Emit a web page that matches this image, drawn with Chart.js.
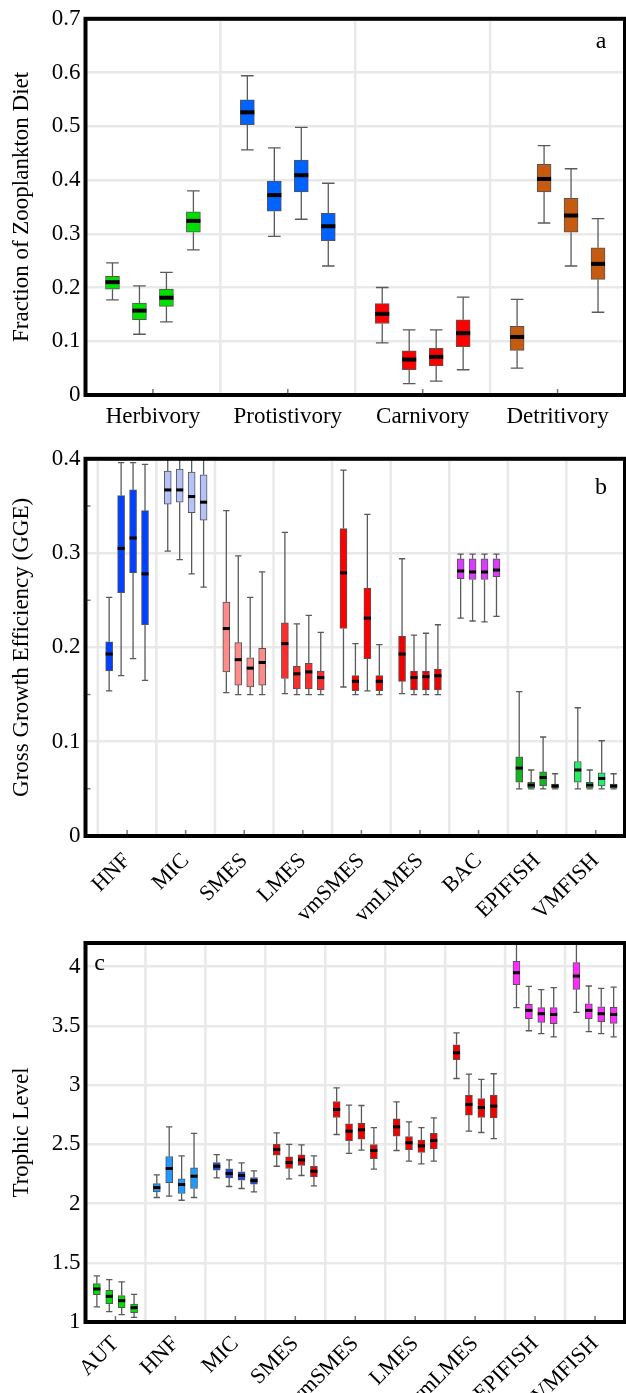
<!DOCTYPE html>
<html>
<head>
<meta charset="utf-8">
<script src="https://cdn.jsdelivr.net/npm/chart.js@4.4.0/dist/chart.umd.min.js"></script>
<style>
  body { margin: 0; background: #fff; }
  .panel { position: absolute; left: 0; }
</style>
</head>
<body>
<div class="panel" style="top:0px"><canvas id="chartA" width="626" height="440"></canvas></div>
<div class="panel" style="top:440px"><canvas id="chartB" width="626" height="480"></canvas></div>
<div class="panel" style="top:920px"><canvas id="chartC" width="626" height="473"></canvas></div>
<script>
// ---- panel a : fraction of zooplankton diet ([category][run]) ----
var dietCats = ['Herbivory', 'Protistivory', 'Carnivory', 'Detritivory'];
var dietLow  = [[0.177,0.113,0.136,0.270],[0.456,0.295,0.327,0.240],[0.097,0.021,0.026,0.047],[0.050,0.320,0.240,0.154]];
var dietQ1   = [[0.197,0.140,0.165,0.303],[0.503,0.342,0.378,0.287],[0.133,0.047,0.054,0.090],[0.083,0.378,0.303,0.215]];
var dietMed  = [[0.210,0.157,0.181,0.324],[0.526,0.372,0.409,0.314],[0.151,0.066,0.071,0.115],[0.108,0.402,0.334,0.244]];
var dietQ3   = [[0.221,0.171,0.197,0.341],[0.549,0.398,0.437,0.338],[0.170,0.082,0.087,0.140],[0.128,0.429,0.366,0.274]];
var dietHigh = [[0.246,0.203,0.228,0.380],[0.594,0.460,0.498,0.394],[0.200,0.121,0.121,0.182],[0.178,0.464,0.421,0.328]];
var dietTicks = [0, 0.1, 0.2, 0.3, 0.4, 0.5, 0.6, 0.7];

// ---- panel b : gross growth efficiency ----
var ggeCats = ['HNF', 'MIC', 'SMES', 'LMES', 'vmSMES', 'vmLMES', 'BAC', 'EPIFISH', 'VMFISH'];
var ggeLow = [[0.154,0.170,0.188,0.165],[0.302,0.293,0.278,0.264],[0.152,0.150,0.150,0.150],[0.151,0.150,0.150,0.150],
  [0.158,0.150,0.154,0.150],[0.151,0.150,0.150,0.150],[0.231,0.228,0.227,0.233],[0.050,0.050,0.050,0.050],[0.050,0.050,0.050,0.050]];
var ggeQ1 = [[0.175,0.258,0.279,0.224],[0.352,0.354,0.343,0.335],[0.174,0.160,0.158,0.160],[0.167,0.156,0.156,0.155],
  [0.220,0.154,0.188,0.154],[0.164,0.155,0.155,0.155],[0.273,0.272,0.272,0.275],[0.057,0.051,0.053,0.051],[0.057,0.051,0.053,0.051]];
var ggeMed = [[0.193,0.305,0.316,0.278],[0.367,0.367,0.360,0.354],[0.220,0.187,0.178,0.184],[0.204,0.172,0.174,0.168],
  [0.279,0.164,0.231,0.164],[0.193,0.168,0.169,0.170],[0.281,0.280,0.280,0.282],[0.072,0.054,0.062,0.053],[0.070,0.054,0.061,0.053]];
var ggeQ3 = [[0.206,0.361,0.367,0.345],[0.387,0.389,0.386,0.383],[0.248,0.205,0.189,0.199],[0.226,0.180,0.183,0.175],
  [0.326,0.170,0.263,0.170],[0.212,0.175,0.175,0.177],[0.294,0.294,0.294,0.294],[0.084,0.057,0.068,0.055],[0.079,0.057,0.067,0.055]];
var ggeHigh = [[0.253,0.396,0.396,0.394],[0.420,0.420,0.420,0.420],[0.345,0.297,0.253,0.280],[0.322,0.225,0.234,0.216],
  [0.388,0.204,0.341,0.203],[0.294,0.213,0.215,0.224],[0.299,0.299,0.299,0.299],[0.153,0.070,0.105,0.066],[0.136,0.070,0.101,0.066]];
var ggeTicks = [0, 0.1, 0.2, 0.3, 0.4];
var ggeMinor = [0.05, 0.15, 0.25, 0.35];

// ---- panel c : trophic level ----
var tlCats = ['AUT', 'HNF', 'MIC', 'SMES', 'vmSMES', 'LMES', 'vmLMES', 'EPIFISH', 'VMFISH'];
var tlLow = [[1.127,1.087,1.062,1.039],[2.051,2.062,2.028,2.051],[2.217,2.144,2.127,2.099],[2.315,2.208,2.237,2.149],
  [2.583,2.423,2.451,2.290],[2.448,2.358,2.335,2.358],[3.056,2.611,2.600,2.549],[3.654,3.459,3.434,3.408],[3.614,3.451,3.434,3.408]];
var tlQ1 = [[1.231,1.155,1.121,1.079],[2.099,2.177,2.085,2.127],[2.282,2.217,2.197,2.163],[2.408,2.296,2.321,2.225],
  [2.727,2.532,2.544,2.380],[2.569,2.454,2.431,2.462],[3.214,2.746,2.727,2.724],[3.848,3.561,3.530,3.518],[3.808,3.561,3.535,3.521]];
var tlMed = [[1.279,1.217,1.180,1.121],[2.135,2.296,2.161,2.231],[2.315,2.254,2.237,2.194],[2.456,2.346,2.369,2.273],
  [2.794,2.611,2.623,2.448],[2.648,2.513,2.487,2.532],[3.273,2.837,2.811,2.823],[3.949,3.631,3.603,3.597],[3.921,3.631,3.603,3.597]];
var tlQ3 = [[1.324,1.268,1.223,1.152],[2.169,2.397,2.208,2.301],[2.346,2.293,2.268,2.220],[2.501,2.394,2.411,2.315],
  [2.862,2.673,2.679,2.499],[2.715,2.566,2.535,2.592],[3.341,2.913,2.887,2.915],[4.045,3.682,3.654,3.654],[4.034,3.687,3.662,3.656]];
var tlHigh = [[1.389,1.358,1.338,1.234],[2.242,2.648,2.403,2.592],[2.414,2.369,2.344,2.276],[2.597,2.499,2.496,2.403],
  [2.977,2.831,2.828,2.642],[2.859,2.690,2.642,2.724],[3.442,3.093,3.048,3.096],[4.300,3.834,3.806,3.823],[4.300,3.837,3.817,3.828]];
var tlTicks = [1, 1.5, 2, 2.5, 3, 3.5, 4];

// colours per category
var dietColors = ['#00e000', '#0062ff', '#ff0000', '#c55a11'];
var ggeColors = ['#0040ff', '#b6c2f7', '#ff8a8a', '#ff2a2a', '#ff0000', '#f20000', '#dd3cff', '#16b41e', '#22f064'];
var tlColors = ['#00dd00', '#1f9bff', '#1a4de6', '#f20000', '#f20000', '#f20000', '#f20000', '#ff2cff', '#ff2cff'];

var SERIF = "'Liberation Serif', 'Times New Roman', serif";

// whiskers, medians, frame, letters
var boxExtras = {
  id: 'boxExtras',
  beforeDatasetsDraw: function (chart) {
    var ctx = chart.ctx, a = chart.chartArea, x = chart.scales.x;
    var n = chart.options.plugins.boxExtras.n;
    ctx.save();
    ctx.strokeStyle = '#e9e9e9';
    ctx.lineWidth = 2.5;
    for (var k = 1; k < n; k++) {
      var px = x.getPixelForValue(k);
      ctx.beginPath(); ctx.moveTo(px, a.top); ctx.lineTo(px, a.bottom); ctx.stroke();
    }
    if (x.min < 0) {
      var p0 = x.getPixelForValue(0);
      ctx.beginPath(); ctx.moveTo(p0, a.top); ctx.lineTo(p0, a.bottom); ctx.stroke();
    }
    ctx.restore();
  },
  afterDatasetsDraw: function (chart) {
    var ctx = chart.ctx, a = chart.chartArea, y = chart.scales.y;
    var opts = chart.options.plugins.boxExtras;
    ctx.save();
    ctx.beginPath();
    ctx.rect(a.left, a.top, a.right - a.left, a.bottom - a.top);
    ctx.clip();
    chart.data.datasets.forEach(function (ds, di) {
      var meta = chart.getDatasetMeta(di);
      meta.data.forEach(function (bar, i) {
        var bx = bar.x, w = bar.width;
        var yLo = y.getPixelForValue(ds.low[i]);
        var yHi = y.getPixelForValue(ds.high[i]);
        var yQ1 = y.getPixelForValue(ds.data[i].y[0]);
        var yQ3 = y.getPixelForValue(ds.data[i].y[1]);
        var yMed = y.getPixelForValue(ds.med[i]);
        ctx.strokeStyle = '#5a5a5a';
        ctx.lineWidth = opts.whisker;
        ctx.beginPath();
        ctx.moveTo(bx, yQ1); ctx.lineTo(bx, yLo);
        ctx.moveTo(bx, yQ3); ctx.lineTo(bx, yHi);
        ctx.moveTo(bx - w * 0.45, yLo); ctx.lineTo(bx + w * 0.45, yLo);
        ctx.moveTo(bx - w * 0.45, yHi); ctx.lineTo(bx + w * 0.45, yHi);
        ctx.stroke();
        ctx.fillStyle = '#000';
        ctx.fillRect(bx - w / 2, yMed - opts.medH / 2, w, opts.medH);
      });
    });
    ctx.restore();
  },
  afterDraw: function (chart) {
    var ctx = chart.ctx, a = chart.chartArea, x = chart.scales.x, y = chart.scales.y;
    var opts = chart.options.plugins.boxExtras;
    ctx.save();
    // inward tick marks
    ctx.strokeStyle = '#777';
    ctx.lineWidth = 1.5;
    ctx.beginPath();
    for (var k = 0; k < opts.n; k++) {
      var px = x.getPixelForValue(k + 0.5);
      ctx.moveTo(px, a.bottom); ctx.lineTo(px, a.bottom - 6);
    }
    (opts.minor || []).forEach(function (v) {
      var py = y.getPixelForValue(v);
      ctx.moveTo(a.left, py); ctx.lineTo(a.left + 5, py);
    });
    ctx.stroke();
    // frame
    ctx.strokeStyle = '#000';
    ctx.lineWidth = 4;
    ctx.strokeRect(a.left, a.top, a.right - a.left, a.bottom - a.top);
    // panel letter
    ctx.fillStyle = '#000';
    ctx.font = '24px ' + SERIF;
    ctx.textAlign = 'center';
    ctx.textBaseline = 'middle';
    var lx = opts.letterX < 0 ? a.right + opts.letterX : a.left + opts.letterX;
    ctx.fillText(opts.letter, lx, a.top + opts.letterY);
    ctx.restore();
  }
};

function makeBoxChart(id, p) {
  var datasets = [];
  for (var j = 0; j < 4; j++) {
    datasets.push({
      data: p.cats.map(function (c, i) { return { x: i + 0.5 + (j - 1.5) * p.slot, y: [p.q1[i][j], p.q3[i][j]] }; }),
      low: p.cats.map(function (c, i) { return p.low[i][j]; }),
      med: p.cats.map(function (c, i) { return p.med[i][j]; }),
      high: p.cats.map(function (c, i) { return p.high[i][j]; }),
      backgroundColor: p.colors,
      borderColor: '#555',
      borderWidth: 1,
      borderSkipped: false,
      barThickness: p.barPx,
      grouped: false
    });
  }
  return new Chart(document.getElementById(id), {
    type: 'bar',
    data: { datasets: datasets },
    plugins: [boxExtras],
    options: {
      responsive: false,
      animation: false,
      layout: { padding: { top: p.padTop, right: 1, left: 0, bottom: 0 } },
      plugins: {
        legend: { display: false },
        tooltip: { enabled: false },
        boxExtras: { n: p.cats.length, minor: p.minor, letter: p.letter, letterX: p.letterX, letterY: p.letterY,
          whisker: 1.3, medH: p.medH }
      },
      scales: {
        x: {
          type: 'linear',
          offset: false,
          min: p.xmin, max: p.cats.length,
          grid: { display: false, offset: false },
          border: { display: false },
          afterBuildTicks: function (s) { s.ticks = p.cats.map(function (c, i) { return { value: i + 0.5 }; }); },
          afterFit: function (s) { s.height = p.xHeight; },
          ticks: {
            autoSkip: false,
            minRotation: p.rot, maxRotation: p.rot,
            padding: p.xPad,
            color: '#000',
            font: { family: SERIF, size: p.xFont },
            callback: function (v, i) { return p.cats[i]; }
          }
        },
        y: {
          min: p.ymin, max: p.ymax,
          grid: { color: '#e9e9e9', lineWidth: 2.5, drawTicks: false },
          border: { display: false },
          afterBuildTicks: function (s) { s.ticks = p.ticks.map(function (v) { return { value: v }; }); },
          afterFit: function (s) { s.width = 85.5; },
          ticks: {
            padding: 5,
            color: '#000',
            font: { family: SERIF, size: 23 },
            callback: function (v) { return String(v); }
          },
          title: {
            display: true, text: p.title, color: '#000',
            font: { family: SERIF, size: 23 },
            padding: { top: 8, bottom: 0 }
          }
        }
      }
    }
  });
}

makeBoxChart('chartA', {
  cats: dietCats, low: dietLow, q1: dietQ1, med: dietMed, q3: dietQ3, high: dietHigh,
  colors: dietColors, ticks: dietTicks, ymin: 0, ymax: 0.7, xmin: 0,
  title: 'Fraction of Zooplankton Diet', slot: 0.2, barPx: 14, medH: 4,
  padTop: 15, xHeight: 45, rot: 0, xPad: 0, xFont: 23, letter: 'a', letterX: -24, letterY: 23
});

makeBoxChart('chartB', {
  cats: ggeCats, low: ggeLow, q1: ggeQ1, med: ggeMed, q3: ggeQ3, high: ggeHigh,
  colors: ggeColors, ticks: ggeTicks, minor: ggeMinor, ymin: 0, ymax: 0.4, xmin: -0.21,
  title: 'Gross Growth Efficiency (GGE)', slot: 0.204, barPx: 7, medH: 3,
  padTop: 16, xHeight: 84, rot: 45, xPad: 4, xFont: 22, letter: 'b', letterX: -24, letterY: 29
});

makeBoxChart('chartC', {
  cats: tlCats, low: tlLow, q1: tlQ1, med: tlMed, q3: tlQ3, high: tlHigh,
  colors: tlColors, ticks: tlTicks, ymin: 1, ymax: 4.2, xmin: 0,
  title: 'Trophic Level', slot: 0.207, barPx: 7, medH: 3,
  padTop: 23, xHeight: 71, rot: 45, xPad: 1, xFont: 22, letter: 'c', letterX: 14, letterY: 21
});
</script>
</body>
</html>
